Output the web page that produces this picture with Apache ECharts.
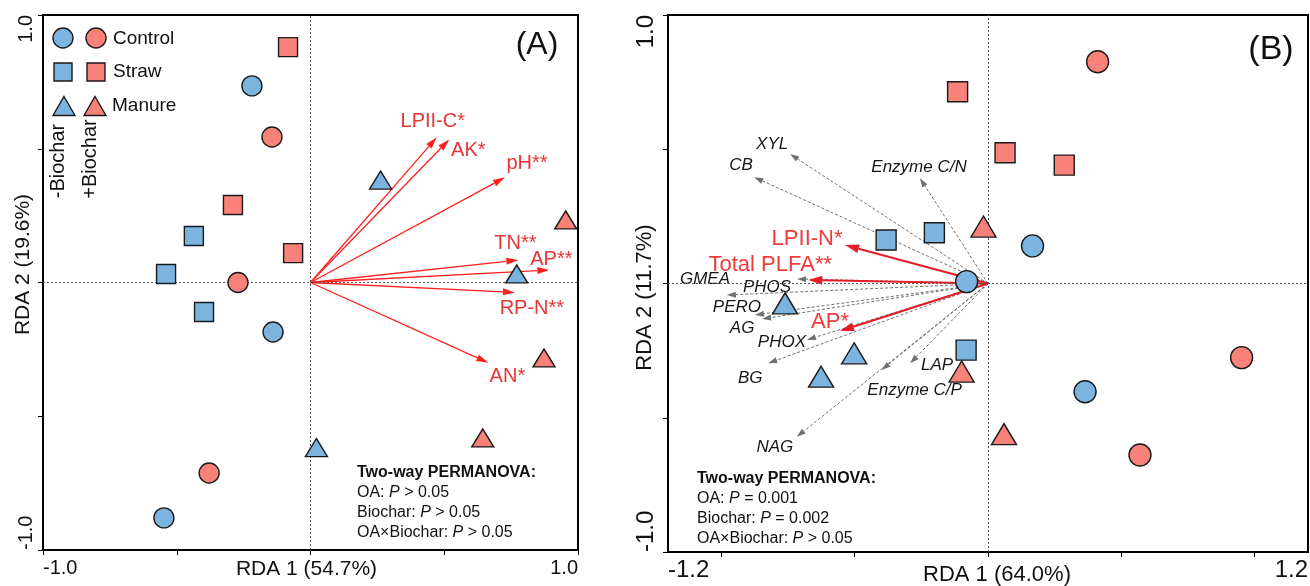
<!DOCTYPE html>
<html>
<head>
<meta charset="utf-8">
<script src="https://cdn.jsdelivr.net/npm/echarts@6/dist/echarts.min.js"></script>
<style>
  html, body { margin: 0; padding: 0; background: #fff; }
  #chart { width: 1310px; height: 586px; }
</style>
</head>
<body>
<div id="chart"></div>
<script>
// ---------- Panel A: soil properties RDA ----------
const aControlNoBiochar = [[-0.219, 0.735], [-0.140, -0.185], [-0.548, -0.880]];
const aControlBiochar   = [[-0.144, 0.544], [-0.271, 0.000], [-0.379, -0.712]];
const aStrawNoBiochar   = [[-0.436, 0.174], [-0.540, 0.032], [-0.398, -0.110]];
const aStrawBiochar     = [[-0.084, 0.880], [-0.290, 0.290], [-0.065, 0.110]];
const aManureNoBiochar  = [[0.262, 0.383], [0.771, 0.032], [0.022, -0.617]];
const aManureBiochar    = [[0.954, 0.234], [0.873, -0.282], [0.644, -0.581]];

const aVarNames   = ['LPII-C*', 'AK*', 'pH**', 'TN**', 'AP**', 'RP-N**', 'AN*'];
const aVarVectors = [[0.472, 0.543], [0.519, 0.535], [0.727, 0.393], [0.777, 0.084],
                     [0.893, 0.047], [0.764, -0.037], [0.665, -0.300]];

const aStats = [['OA', '> 0.05'], ['Biochar', '> 0.05'], ['OA\u00d7Biochar', '> 0.05']];

// ---------- Panel B: microbial / enzyme RDA ----------
const bControlNoBiochar = [[0.167, 0.140], [-0.080, 0.007], [0.364, -0.403]];
const bControlBiochar   = [[0.411, 0.826], [0.951, -0.276], [0.570, -0.639]];
const bStrawNoBiochar   = [[-0.201, 0.189], [-0.382, 0.162], [-0.082, -0.248]];
const bStrawBiochar     = [[-0.114, 0.714], [0.064, 0.487], [0.286, 0.441]];
const bManureNoBiochar  = [[-0.761, -0.074], [-0.502, -0.260], [-0.626, -0.347]];
const bManureBiochar    = [[-0.017, 0.212], [-0.099, -0.328], [0.060, -0.561]];

const bEnzNames   = ['XYL', 'CB', 'Enzyme C/N', 'GMEA', 'PHOS', 'PERO', 'AG', 'PHOX', 'BG', 'LAP', 'Enzyme C/P', 'NAG'];
const bEnzVectors = [[-0.742, 0.482], [-0.877, 0.396], [-0.255, 0.392], [-0.979, -0.043],
                     [-0.716, 0.017], [-0.874, -0.117], [-0.847, -0.132], [-0.679, -0.210],
                     [-0.824, -0.297], [-0.292, -0.297], [-0.399, -0.322], [-0.717, -0.571]];

const bSigNames   = ['LPII-N*', 'Total PLFA**', 'AP*'];
const bSigVectors = [[-0.536, 0.143], [-0.674, 0.013], [-0.555, -0.177]];

const bStats = [['OA', '= 0.001'], ['Biochar', '= 0.002'], ['OA\u00d7Biochar', '> 0.05']];

// Axis titles
const aXName = 'RDA 1 (54.7%)', aYName = 'RDA 2 (19.6%)';
const bXName = 'RDA 1 (64.0%)', bYName = 'RDA 2 (11.7%)';

// ---------- styling ----------
const FONT = "'Liberation Sans', Arial, Helvetica, sans-serif";
const BLUE = '#7ab4df';
const RED = '#f8827a';
const EDGE = '#1a1a1a';

// label placement (pixel offset from arrow tip to label centre)
const aLabelShift = [[-4, -16], [19, 11], [22, -14], [-3, -17], [2, -10], [17, 16], [19, 14]];
const bEnzLabelShift = [[-18, -10], [-13, -12], [-1, -11], [-22, -16], [-30, 8], [-18, -8],
                        [-20, 9], [-25, 2], [-18, 15], [27, 2], [33, 20], [-22, 10]];
const bSigLabelShift = [[-38, -6], [-38, -15], [-10, -9]];

function markers(data, symbol, color, size, gi) {
  return {
    type: 'scatter', xAxisIndex: gi, yAxisIndex: gi, data: data,
    symbol: symbol, symbolSize: size, z: 6, silent: true,
    itemStyle: { color: color, borderColor: EDGE, borderWidth: 1.4, opacity: 1 },
    emphasis: { disabled: true }
  };
}

function zeroLines(gi) {
  return {
    type: 'scatter', xAxisIndex: gi, yAxisIndex: gi, data: [], z: 1, silent: true,
    markLine: {
      silent: true, symbol: 'none', animation: false,
      label: { show: false },
      lineStyle: { type: [2, 2], color: '#555', width: 1 },
      emphasis: { disabled: true },
      data: [{ xAxis: 0 }, { yAxis: 0 }]
    }
  };
}

function arrows(vectors, names, shifts, gi, st) {
  return {
    type: 'custom', xAxisIndex: gi, yAxisIndex: gi, z: st.z, silent: true, clip: false,
    data: vectors.map((v, i) => ({ value: [v[0], v[1]], name: names[i] })),
    renderItem: function (params, api) {
      const i = params.dataIndex;
      const o = api.coord([0, 0]);
      const t = api.coord([api.value(0), api.value(1)]);
      const dx = t[0] - o[0], dy = t[1] - o[1];
      const len = Math.sqrt(dx * dx + dy * dy) || 1;
      const ux = dx / len, uy = dy / len;
      const b = [t[0] - ux * st.headLen, t[1] - uy * st.headLen];
      const px = -uy * st.headW / 2, py = ux * st.headW / 2;
      const sh = shifts[i];
      return {
        type: 'group',
        children: [
          { type: 'line', shape: { x1: o[0], y1: o[1], x2: b[0], y2: b[1] },
            style: { stroke: st.color, lineWidth: st.width, lineDash: st.dash || null } },
          { type: 'polygon', shape: { points: [t, [b[0] + px, b[1] + py], [b[0] - px, b[1] - py]] },
            style: { fill: st.color } },
          { type: 'text', x: t[0] + sh[0], y: t[1] + sh[1],
            style: { text: names[i], fill: st.labelColor, fontSize: st.fontSize,
                     fontStyle: st.italic ? 'italic' : 'normal', fontFamily: FONT,
                     align: 'center', verticalAlign: 'middle' } }
        ]
      };
    }
  };
}

function valueAxis(gi, o) {
  return {
    type: 'value', gridIndex: gi, min: o.min, max: o.max,
    interval: o.interval,
    name: o.name, nameLocation: 'middle', nameGap: o.nameGap, nameMoveOverlap: false,
    nameTextStyle: { fontSize: o.nameSize, color: '#111', fontFamily: FONT, padding: o.namePad || 0 },
    axisLine: { show: true, onZero: false, lineStyle: { color: '#000', width: 2 } },
    axisTick: { show: true, inside: false, length: 5, lineStyle: { color: '#000', width: 1 },
                customValues: o.tickValues },
    axisLabel: {
      show: true, customValues: o.labelValues, rotate: o.rotate || 0,
      formatter: v => Number(v).toFixed(1),
      fontSize: o.labelSize, color: '#111', fontFamily: FONT, margin: o.margin,
      alignMinLabel: o.alignMin, alignMaxLabel: o.alignMax
    },
    splitLine: { show: false }
  };
}

function statsText(rows) {
  let s = '{b|Two-way PERMANOVA:}';
  rows.forEach(r => { s += '\n{n|' + r[0] + ': }{i|P}{n| ' + r[1] + '}'; });
  return s;
}
const statsRich = {
  b: { fontSize: 16, fontWeight: 'bold', fontFamily: FONT, fill: '#111', lineHeight: 20 },
  n: { fontSize: 16, fontFamily: FONT, fill: '#111', lineHeight: 20 },
  i: { fontSize: 16, fontStyle: 'italic', fontFamily: FONT, fill: '#111', lineHeight: 20 }
};

// legend glyphs (sample symbols for the two biochar columns)
function triPts(cx, cy, w, h) {
  return [[cx, cy - h / 2], [cx + w / 2, cy + h / 2], [cx - w / 2, cy + h / 2]];
}
const legendGraphics = [
  { type: 'circle', shape: { cx: 63, cy: 38, r: 10 }, style: { fill: BLUE, stroke: EDGE, lineWidth: 1.4 } },
  { type: 'circle', shape: { cx: 96, cy: 38, r: 10 }, style: { fill: RED, stroke: EDGE, lineWidth: 1.4 } },
  { type: 'rect', shape: { x: 54, y: 63, width: 18, height: 18 }, style: { fill: BLUE, stroke: EDGE, lineWidth: 1.4 } },
  { type: 'rect', shape: { x: 87, y: 63, width: 18, height: 18 }, style: { fill: RED, stroke: EDGE, lineWidth: 1.4 } },
  { type: 'polygon', shape: { points: triPts(64, 106, 22, 19) }, style: { fill: BLUE, stroke: EDGE, lineWidth: 1.4 } },
  { type: 'polygon', shape: { points: triPts(95, 106, 22, 19) }, style: { fill: RED, stroke: EDGE, lineWidth: 1.4 } },
  { type: 'text', x: 113, y: 39, style: { text: 'Control', fontSize: 19, fontFamily: FONT, fill: '#111', verticalAlign: 'middle' } },
  { type: 'text', x: 113, y: 72, style: { text: 'Straw', fontSize: 19, fontFamily: FONT, fill: '#111', verticalAlign: 'middle' } },
  { type: 'text', x: 112, y: 106, style: { text: 'Manure', fontSize: 19, fontFamily: FONT, fill: '#111', verticalAlign: 'middle' } },
  { type: 'text', x: 58, y: 161, rotation: Math.PI / 2,
    style: { text: '-Biochar', fontSize: 20, fontFamily: FONT, fill: '#111', align: 'center', verticalAlign: 'middle' } },
  { type: 'text', x: 90, y: 159, rotation: Math.PI / 2,
    style: { text: '+Biochar', fontSize: 20, fontFamily: FONT, fill: '#111', align: 'center', verticalAlign: 'middle' } }
];

const chart = echarts.init(document.getElementById('chart'), null, { renderer: 'canvas' });

chart.setOption({
  animation: false,
  backgroundColor: '#fff',
  textStyle: { fontFamily: FONT },
  grid: [
    { left: 43, top: 15, width: 535, height: 535, show: true, borderColor: '#000', borderWidth: 2,
      containLabel: false, outerBoundsMode: 'none' },
    { left: 668, top: 15, width: 640, height: 537, show: true, borderColor: '#000', borderWidth: 2,
      containLabel: false, outerBoundsMode: 'none' }
  ],
  xAxis: [
    valueAxis(0, { min: -1, max: 1, interval: 0.5, name: aXName, nameGap: 9, nameSize: 21,
                   namePad: [0, 8, 0, 0],
                   labelValues: [-1, 1], labelSize: 20, margin: 8, alignMin: 'left', alignMax: 'right' }),
    valueAxis(1, { min: -1.2, max: 1.2, tickValues: [-1, -0.5, 0, 0.5, 1], name: bXName, nameGap: 12, nameSize: 22,
                   namePad: [0, 0, 0, 18],
                   labelValues: [-1.2, 1.2], labelSize: 24, margin: 6, alignMin: 'left', alignMax: 'right' })
  ],
  yAxis: [
    valueAxis(0, { min: -1, max: 1, interval: 0.5, name: aYName, nameGap: 9, nameSize: 21,
                   namePad: [0, 0, 0, 36], rotate: 90,
                   labelValues: [-1, 1], labelSize: 20, margin: 7, alignMin: 'left', alignMax: 'right' }),
    valueAxis(1, { min: -1, max: 1, interval: 0.5, name: bYName, nameGap: 12, nameSize: 22,
                   namePad: [0, 28, 0, 0], rotate: 90,
                   labelValues: [-1, 1], labelSize: 24, margin: 10, alignMin: 'left', alignMax: 'right' })
  ],
  graphic: [
    { type: 'text', x: 537, y: 45, style: { text: '(A)', fontSize: 32, fontFamily: FONT, fill: '#111', align: 'center', verticalAlign: 'middle' } },
    { type: 'text', x: 1271, y: 50, style: { text: '(B)', fontSize: 34, fontFamily: FONT, fill: '#111', align: 'center', verticalAlign: 'middle' } },
    { type: 'text', x: 357, y: 463, style: { text: statsText(aStats), rich: statsRich, fontSize: 16, fontFamily: FONT } },
    { type: 'text', x: 697, y: 469, style: { text: statsText(bStats), rich: statsRich, fontSize: 16, fontFamily: FONT } }
  ].concat(legendGraphics),
  series: [
    zeroLines(0),
    arrows(aVarVectors, aVarNames, aLabelShift, 0,
      { color: '#ff1f1f', labelColor: '#e93535', width: 1.3, headLen: 12, headW: 7, fontSize: 20, z: 3 }),
    markers(aControlNoBiochar, 'circle', BLUE, 20, 0),
    markers(aControlBiochar, 'circle', RED, 20, 0),
    markers(aStrawNoBiochar, 'rect', BLUE, 19, 0),
    markers(aStrawBiochar, 'rect', RED, 19, 0),
    markers(aManureNoBiochar, 'triangle', BLUE, [22, 18], 0),
    markers(aManureBiochar, 'triangle', RED, [22, 18], 0),

    zeroLines(1),
    arrows(bEnzVectors, bEnzNames, bEnzLabelShift, 1,
      { color: '#707070', labelColor: '#161616', width: 1, dash: [3, 2], headLen: 9, headW: 6, fontSize: 17, italic: true, z: 3 }),
    arrows(bSigVectors, bSigNames, bSigLabelShift, 1,
      { color: '#e21d27', labelColor: '#ef3b3b', width: 2, headLen: 14, headW: 9, fontSize: 22, z: 4 }),
    markers(bControlNoBiochar, 'circle', BLUE, 22, 1),
    markers(bControlBiochar, 'circle', RED, 22, 1),
    markers(bStrawNoBiochar, 'rect', BLUE, 20, 1),
    markers(bStrawBiochar, 'rect', RED, 20, 1),
    markers(bManureNoBiochar, 'triangle', BLUE, [25, 21], 1),
    markers(bManureBiochar, 'triangle', RED, [25, 21], 1)
  ]
});
</script>
</body>
</html>
